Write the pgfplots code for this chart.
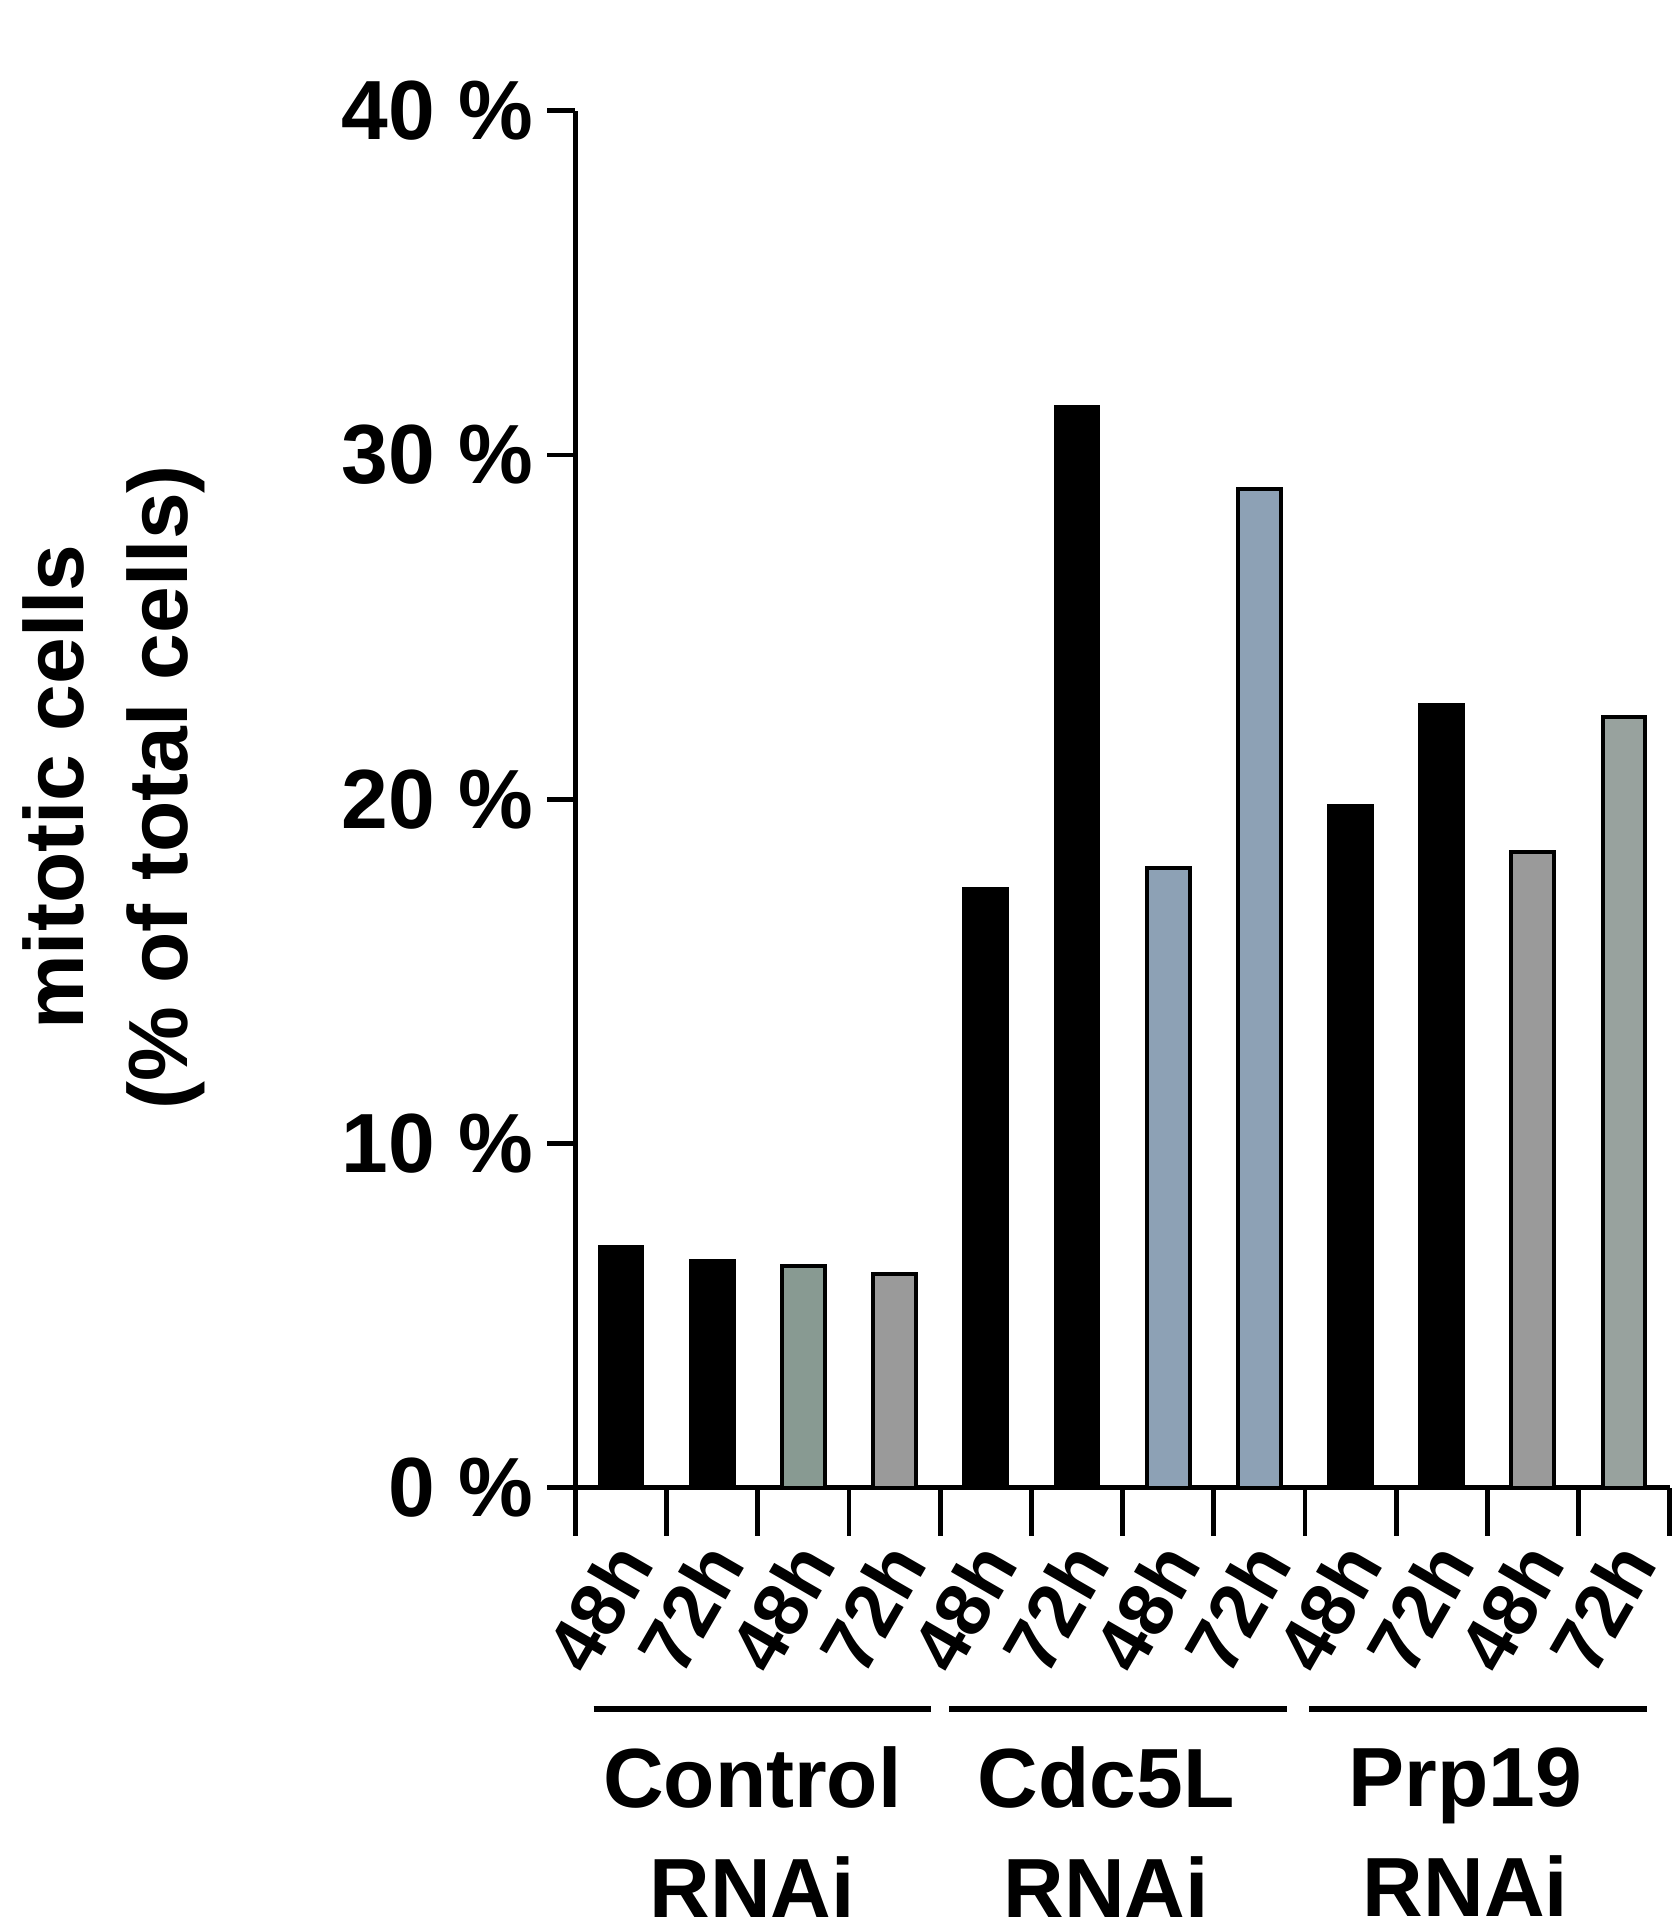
\documentclass[border=0pt]{standalone}
\usepackage{pgfplots}
\pgfplotsset{compat=1.18}
\usepackage{fontspec}
\setmainfont{Liberation Sans}
\definecolor{cgreen}{HTML}{889A92}
\definecolor{cgray}{HTML}{9A9A9A}
\definecolor{cblue}{HTML}{8DA1B5}
\definecolor{cgreengray}{HTML}{98A29E}
\newcommand{\bigfont}{\bfseries\fontsize{21}{26}\selectfont}
\begin{document}
\begin{tikzpicture}
\begin{axis}[
  name=ax,
  scale only axis, width=273.6pt, height=344.3pt,
  xmin=0, xmax=12, ymin=0, ymax=40,
  axis x line*=bottom, axis y line*=left,
  axis line style={line width=1.2pt, black},
  tick style={line width=1.2pt, black},
  tick align=outside,
  major tick length=0pt,
  xtick={0.5,1.5,2.5,3.5,4.5,5.5,6.5,7.5,8.5,9.5,10.5,11.5},
  xticklabels={48h,72h,48h,72h,48h,72h,48h,72h,48h,72h,48h,72h},
  x tick label style={font=\bfseries\fontsize{19}{22}\selectfont, xshift=-5.5pt, yshift=-30pt, rotate=60, anchor=center},
  ytick=\empty,
  extra y ticks={0,10,20,30,40},
  extra y tick labels={0 \%,10 \%,20 \%,30 \%,40 \%},
  extra y tick style={major tick length=7pt, tick label style={font=\bigfont}},
  extra x ticks={0,1,2,3,4,5,6,7,8,9,10,11,12},
  extra x tick labels={},
  extra x tick style={major tick length=12pt},
  clip=false,
]
\addplot[ybar, bar width=0.47, bar shift=0pt, fill=black, draw=black, line width=1pt]
  coordinates {(0.5,7.0) (1.5,6.6) (4.5,17.4) (5.5,31.4) (8.5,19.8) (9.5,22.75)};
\addplot[ybar, bar width=0.47, bar shift=0pt, fill=cgreen, draw=black, line width=1pt]
  coordinates {(2.5,6.43)};
\addplot[ybar, bar width=0.47, bar shift=0pt, fill=cgray, draw=black, line width=1pt]
  coordinates {(3.5,6.2) (10.5,18.46)};
\addplot[ybar, bar width=0.47, bar shift=0pt, fill=cblue, draw=black, line width=1pt]
  coordinates {(6.5,18.0) (7.5,29.0)};
\addplot[ybar, bar width=0.47, bar shift=0pt, fill=cgreengray, draw=black, line width=1pt]
  coordinates {(11.5,22.4)};
\draw[line width=1.5pt] ([yshift=-55.3pt]axis cs:0.2,0) -- ([yshift=-55.3pt]axis cs:3.9,0);
\draw[line width=1.5pt] ([yshift=-55.3pt]axis cs:4.1,0) -- ([yshift=-55.3pt]axis cs:7.8,0);
\draw[line width=1.5pt] ([yshift=-55.3pt]axis cs:8.05,0) -- ([yshift=-55.3pt]axis cs:11.75,0);
\node[font=\bfseries\fontsize{21}{27.6}\selectfont, align=center] at ([yshift=-86.1pt]axis cs:1.94,0) {Control\\RNAi};
\node[font=\bfseries\fontsize{21}{27.6}\selectfont, align=center] at ([yshift=-86.1pt]axis cs:5.82,0) {Cdc5L\\RNAi};
\node[font=\bfseries\fontsize{21}{27.6}\selectfont, align=center] at ([yshift=-86.1pt]axis cs:9.76,0) {Prp19\\RNAi};
\node[font=\bigfont, align=center, rotate=90] at ([xshift=-115.5pt, yshift=3pt]axis cs:0,20) {mitotic cells\\(\% of total cells)};
\end{axis}
\pgfresetboundingbox
\path ([shift={(-143.9pt,-110.1pt)}]ax.south west) rectangle ([shift={(274.9pt,372pt)}]ax.south west);
\end{tikzpicture}
\end{document}
